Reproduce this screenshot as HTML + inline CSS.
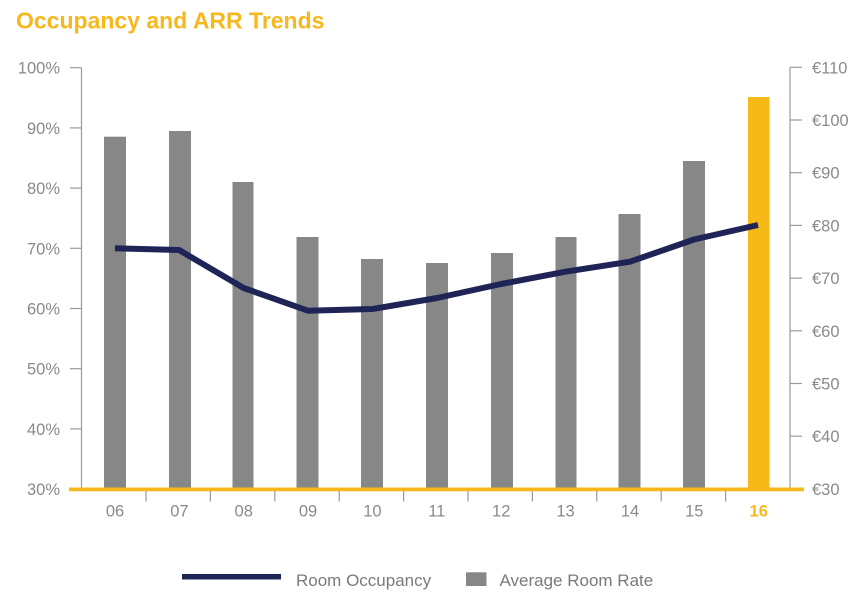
<!DOCTYPE html>
<html><head><meta charset="utf-8"><style>
html,body{margin:0;padding:0;background:#fff;}
svg{display:block;font-family:"Liberation Sans",Arial,sans-serif;}
</style></head><body>
<svg width="861" height="598" viewBox="0 0 861 598" xmlns="http://www.w3.org/2000/svg">
<rect width="861" height="598" fill="#fff"/>
<text x="16" y="28.5" font-size="23" font-weight="bold" fill="#F6B81C">Occupancy and ARR Trends</text>

<!-- left axis -->
<line x1="81.5" y1="67.7" x2="81.5" y2="489" stroke="#9a9a9a" stroke-width="1.2"/>
<g stroke="#9a9a9a" stroke-width="1.2">
<line x1="70" y1="67.7" x2="81.5" y2="67.7"/>
<line x1="70" y1="127.9" x2="81.5" y2="127.9"/>
<line x1="70" y1="188.1" x2="81.5" y2="188.1"/>
<line x1="70" y1="248.3" x2="81.5" y2="248.3"/>
<line x1="70" y1="308.5" x2="81.5" y2="308.5"/>
<line x1="70" y1="368.7" x2="81.5" y2="368.7"/>
<line x1="70" y1="428.9" x2="81.5" y2="428.9"/>
</g>
<g font-size="16.5" fill="#8a8a8a" text-anchor="end">
<text x="60" y="73.7">100%</text>
<text x="60" y="133.9">90%</text>
<text x="60" y="194.1">80%</text>
<text x="60" y="254.3">70%</text>
<text x="60" y="314.5">60%</text>
<text x="60" y="374.7">50%</text>
<text x="60" y="434.9">40%</text>
<text x="60" y="495">30%</text>
</g>

<!-- right axis -->
<line x1="790" y1="67.3" x2="790" y2="489" stroke="#9a9a9a" stroke-width="1.2"/>
<g stroke="#9a9a9a" stroke-width="1.2">
<line x1="790" y1="67.3" x2="802" y2="67.3"/>
<line x1="790" y1="120" x2="802" y2="120"/>
<line x1="790" y1="172.7" x2="802" y2="172.7"/>
<line x1="790" y1="225.4" x2="802" y2="225.4"/>
<line x1="790" y1="278.1" x2="802" y2="278.1"/>
<line x1="790" y1="330.8" x2="802" y2="330.8"/>
<line x1="790" y1="383.5" x2="802" y2="383.5"/>
<line x1="790" y1="436.2" x2="802" y2="436.2"/>
</g>
<g font-size="16.5" fill="#8a8a8a">
<text x="812" y="73.3">€110</text>
<text x="812" y="126">€100</text>
<text x="812" y="178.7">€90</text>
<text x="812" y="231.4">€80</text>
<text x="812" y="284.1">€70</text>
<text x="812" y="336.8">€60</text>
<text x="812" y="389.5">€50</text>
<text x="812" y="442.2">€40</text>
<text x="812" y="495">€30</text>
</g>

<!-- bars -->
<g fill="#878787">
<rect x="104" y="136.7" width="22" height="352.3"/>
<rect x="169" y="131" width="22" height="358"/>
<rect x="232.5" y="182" width="21" height="307"/>
<rect x="296.5" y="237" width="22" height="252"/>
<rect x="361" y="259" width="22" height="230"/>
<rect x="426" y="263" width="22" height="226"/>
<rect x="491" y="253" width="22" height="236"/>
<rect x="555.5" y="237" width="21" height="252"/>
<rect x="618.5" y="214" width="22" height="275"/>
<rect x="683" y="161" width="22" height="328"/>
</g>
<rect x="748" y="97" width="21.5" height="392" fill="#F7B916"/>

<!-- baseline -->
<rect x="69" y="487.5" width="735" height="3.8" fill="#F6B81C"/>
<g stroke="#9a9a9a" stroke-width="1.2">
<line x1="146" y1="491" x2="146" y2="501.5"/>
<line x1="210.4" y1="491" x2="210.4" y2="501.5"/>
<line x1="274.8" y1="491" x2="274.8" y2="501.5"/>
<line x1="339.2" y1="491" x2="339.2" y2="501.5"/>
<line x1="403.6" y1="491" x2="403.6" y2="501.5"/>
<line x1="468" y1="491" x2="468" y2="501.5"/>
<line x1="532.4" y1="491" x2="532.4" y2="501.5"/>
<line x1="596.8" y1="491" x2="596.8" y2="501.5"/>
<line x1="661.2" y1="491" x2="661.2" y2="501.5"/>
<line x1="725.6" y1="491" x2="725.6" y2="501.5"/>
</g>
<g font-size="16.5" fill="#8a8a8a" text-anchor="middle">
<text x="115" y="516.5">06</text>
<text x="179.4" y="516.5">07</text>
<text x="243.7" y="516.5">08</text>
<text x="308" y="516.5">09</text>
<text x="372.4" y="516.5">10</text>
<text x="436.8" y="516.5">11</text>
<text x="501.2" y="516.5">12</text>
<text x="565.5" y="516.5">13</text>
<text x="630" y="516.5">14</text>
<text x="694.3" y="516.5">15</text>
<text x="758.7" y="516.5" fill="#F6B81C" font-weight="bold">16</text>
</g>

<!-- line -->
<polyline points="115,248.3 179,250 243.7,288 308,310.7 372.4,309 437,298 501,284 565.5,271.7 630,261.7 694,239.5 758,225" fill="none" stroke="#1F2456" stroke-width="6" stroke-linejoin="round"/>

<!-- legend -->
<rect x="182" y="574" width="99" height="5.5" fill="#1F2456"/>
<text x="296" y="586" font-size="17" fill="#7a7a7a">Room Occupancy</text>
<rect x="466" y="572.3" width="20.5" height="13.7" fill="#878787"/>
<text x="499.5" y="586" font-size="17" fill="#7a7a7a">Average Room Rate</text>
</svg>
</body></html>
